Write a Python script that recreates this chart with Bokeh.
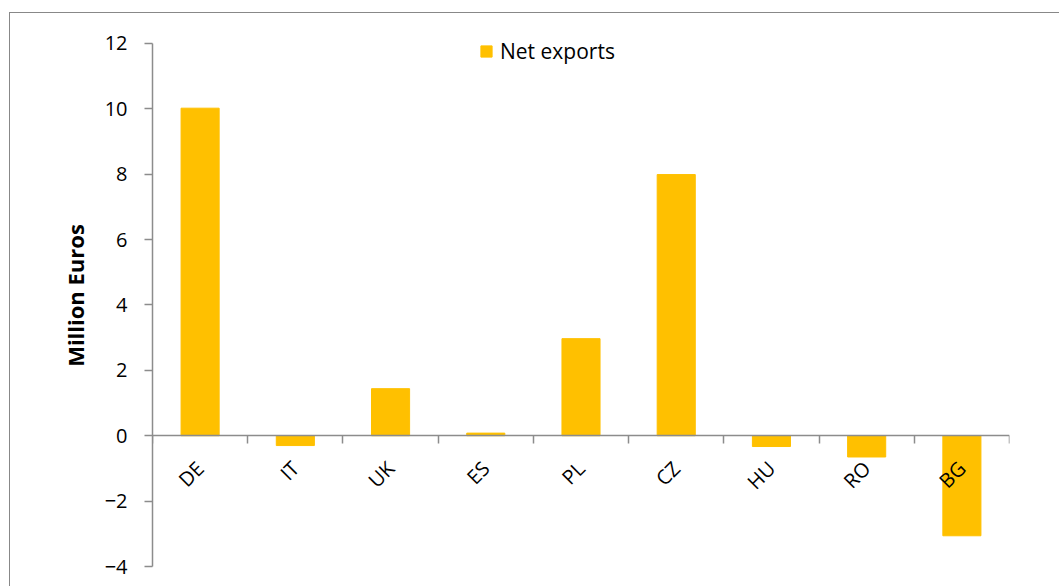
import math
from bokeh.plotting import figure
from bokeh.models import ColumnDataSource, FixedTicker, Legend, LegendItem, Range1d
from bokeh.embed import file_html
from bokeh.resources import INLINE

categories = ["DE", "IT", "UK", "ES", "PL", "CZ", "HU", "RO", "BG"]
net_exports = [10.02, -0.30, 1.44, 0.08, 2.97, 7.99, -0.33, -0.65, -3.06]
y_ticks = [-4, -2, 0, 2, 4, 6, 8, 10, 12]

FONT = "Open Sans"
BAR = "#FFC000"
AXIS = "#8c8c8c"

x_pos = [i + 0.5 for i in range(len(categories))]
src = ColumnDataSource(dict(x=x_pos, top=net_exports, cat=categories))

p = figure(width=1050, height=574, output_backend="svg", toolbar_location=None,
           x_range=Range1d(0, len(categories)), y_range=Range1d(-4, 12.58),
           min_border_left=142, min_border_right=51, min_border_top=11,
           min_border_bottom=21)
p.styles = {"border-top": "1px solid #888", "border-left": "1px solid #888",
            "margin-top": "12px", "margin-left": "9px"}
p.outline_line_color = None
p.grid.visible = False

r = p.vbar(x="x", top="top", bottom=0, width=0.4, source=src,
           fill_color=BAR, line_color=BAR)

# y axis
ya = p.yaxis[0]
ya.ticker = FixedTicker(ticks=y_ticks)
ya.bounds = (min(y_ticks), max(y_ticks))
ya.minor_tick_line_color = None
ya.axis_line_color = AXIS
ya.axis_line_width = 1.5
ya.major_tick_line_color = AXIS
ya.major_tick_line_width = 1.5
ya.major_tick_in = 0
ya.major_tick_out = 8
ya.major_label_text_font = FONT
ya.major_label_text_font_size = "20px"
ya.major_label_text_color = "black"
ya.major_label_standoff = 17
ya.axis_label = "Million Euros"
ya.axis_label_text_font = FONT
ya.axis_label_text_font_style = "bold"
ya.axis_label_text_font_size = "22px"
ya.axis_label_text_color = "black"
ya.axis_label_standoff = 12

# x axis at y = 0
xa = p.xaxis[0]
xa.fixed_location = 0
xa.ticker = FixedTicker(ticks=x_pos, minor_ticks=list(range(len(categories) + 1)))
xa.major_label_overrides = {x: c for x, c in zip(x_pos, categories)}
xa.major_tick_line_color = None
xa.major_tick_in = 0
xa.major_tick_out = 0
xa.minor_tick_line_color = AXIS
xa.minor_tick_line_width = 1.5
xa.minor_tick_in = 0
xa.minor_tick_out = 8
xa.axis_line_color = AXIS
xa.axis_line_width = 1.5
xa.major_label_orientation = math.pi / 4
xa.major_label_text_font = FONT
xa.major_label_text_font_size = "20px"
xa.major_label_text_color = "black"
xa.major_label_standoff = 21

legend = Legend(items=[LegendItem(label="Net exports", renderers=[r])],
                location=(327, 501), orientation="horizontal",
                padding=0, margin=0, border_line_color=None,
                background_fill_alpha=0,
                glyph_width=14, glyph_height=14, label_standoff=7,
                label_text_font=FONT, label_text_font_size="21px",
                label_text_color="black")
p.add_layout(legend)

open("out.html", "w").write(file_html(p, INLINE))
